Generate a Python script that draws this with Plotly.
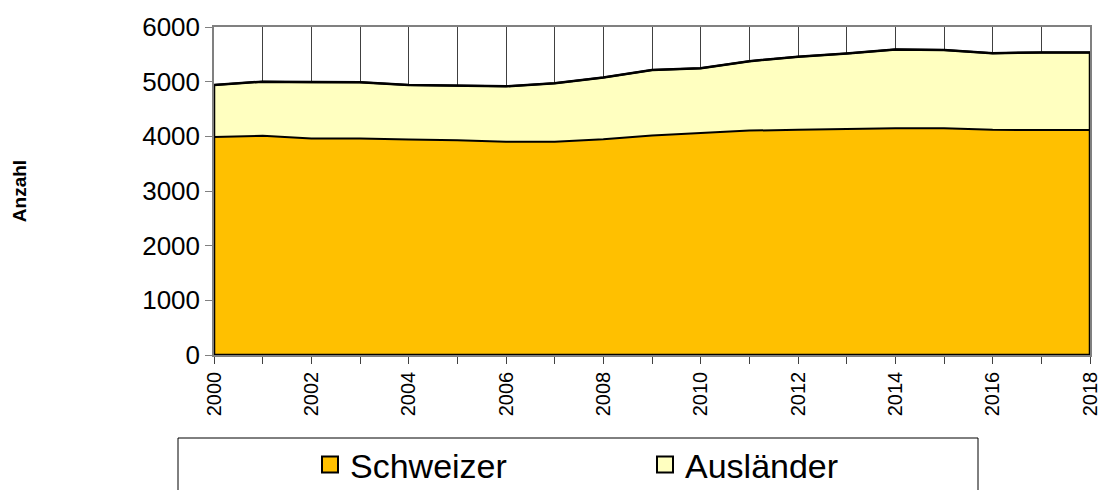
import plotly.graph_objects as go

years = list(range(2000, 2019))
schweizer = [3990, 4010, 3960, 3960, 3940, 3930, 3900, 3900, 3945, 4015,
             4060, 4105, 4120, 4135, 4150, 4150, 4120, 4115, 4115]
auslaender = [950, 990, 1030, 1030, 1000, 1000, 1015, 1070, 1130, 1200,
              1185, 1270, 1335, 1380, 1440, 1430, 1400, 1420, 1420]
tick_labels = [str(y) if y % 2 == 0 else "" for y in years]
y_ticks = [0, 1000, 2000, 3000, 4000, 5000, 6000]

FONT = "Arial, Liberation Sans, sans-serif"
totals = [s + a for s, a in zip(schweizer, auslaender)]

fig = go.Figure()
fig.add_trace(go.Scatter(x=years, y=schweizer, stackgroup="one", mode="lines",
                         fillcolor="#FFC000", line=dict(color="black", width=2),
                         showlegend=False, name="Schweizer"))
fig.add_trace(go.Scatter(x=years, y=auslaender, stackgroup="one", mode="lines",
                         fillcolor="#FFFFC0", line=dict(color="black", width=2),
                         showlegend=False, name="Ausländer"))
# outline of the stacked block (left edge, top, right edge, bottom)
fig.add_trace(go.Scatter(x=[years[0]] + years + [years[-1], years[0]],
                         y=[0] + totals + [0, 0], mode="lines",
                         line=dict(color="black", width=2.5),
                         showlegend=False, hoverinfo="skip"))
# legend entries
fig.add_trace(go.Scatter(x=[None], y=[None], mode="markers", name="Schweizer",
                         marker=dict(symbol="square", size=17, color="#FFC000",
                                     line=dict(color="black", width=2))))
fig.add_trace(go.Scatter(x=[None], y=[None], mode="markers", name="Ausländer",
                         marker=dict(symbol="square", size=17, color="#FFFFC0",
                                     line=dict(color="black", width=2))))

W, H = 1102, 490
L, R, T, B = 214, 12, 27, 135
pw, ph = W - L - R, H - T - B

def px_x(p):
    return (p - L) / pw

def px_y(p):
    return (H - B - p) / ph

fig.add_shape(type="rect", xref="paper", yref="paper",
              x0=px_x(178), x1=px_x(978), y0=px_y(438), y1=px_y(600),
              line=dict(color="black", width=1), fillcolor="rgba(0,0,0,0)")

fig.update_layout(
    width=W, height=H,
    margin=dict(l=L, r=R, t=T, b=B, autoexpand=False),
    paper_bgcolor="white", plot_bgcolor="white",
    font=dict(family=FONT, color="black"),
    showlegend=True,
    legend=dict(orientation="h", x=px_x(310), xanchor="left",
                y=px_y(465), yanchor="middle", traceorder="normal",
                font=dict(size=34, family=FONT, color="black"),
                entrywidth=290, entrywidthmode="pixels",
                bgcolor="rgba(0,0,0,0)", borderwidth=0),
    xaxis=dict(range=[years[0], years[-1]], tickmode="array",
               tickvals=years, ticktext=tick_labels, tickangle=-90,
               tickfont=dict(size=20, family=FONT, color="black"),
               ticks="outside", ticklen=7, tickcolor="#404040",
               showgrid=True, gridcolor="#404040", gridwidth=1,
               showline=True, linecolor="#808080", linewidth=1.5, mirror=True,
               zeroline=False, layer="below traces", automargin=False),
    yaxis=dict(range=[0, 6000], tickmode="array", tickvals=y_ticks,
               tickfont=dict(size=26, family=FONT, color="black"),
               ticks="outside", ticklen=7, tickcolor="#808080",
               showgrid=False, zeroline=False,
               showline=True, linecolor="#808080", linewidth=1.5, mirror=True,
               layer="below traces", automargin=False,
               title=dict(text="<b>Anzahl</b>", standoff=111,
                          font=dict(size=19, family=FONT, color="black"))),
)

fig.write_html("out.html", config={"displayModeBar": False},
               post_script="document.body.style.margin='0';"
                           "document.body.style.overflow='hidden';")
